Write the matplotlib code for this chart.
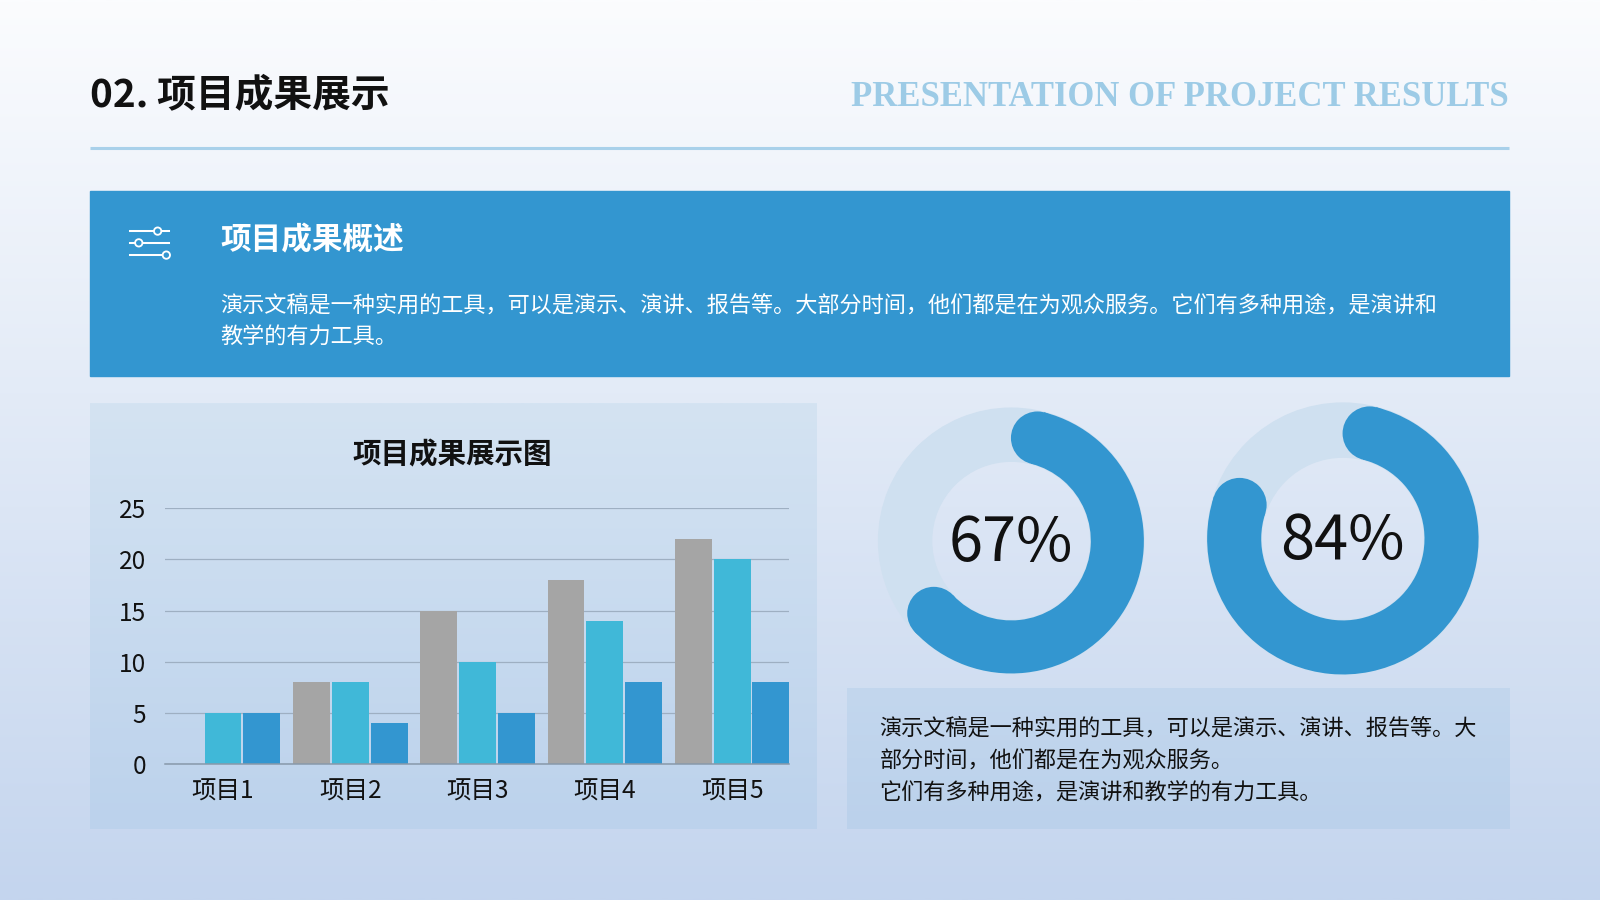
"""Slide: project results overview with grouped bars and two progress rings."""

import numpy as np
import matplotlib

matplotlib.use("Agg")
import matplotlib.pyplot as plt
from matplotlib.patches import Rectangle, Wedge, Circle

plt.rcParams["font.family"] = ["Noto Sans CJK SC", "DejaVu Sans"]

# data
categories = ["项目1", "项目2", "项目3", "项目4", "项目5"]
series_gray = [0, 8, 15, 18, 22]
series_cyan = [5, 8, 10, 14, 20]
series_blue = [5, 4, 5, 8, 8]
y_ticks = [0, 5, 10, 15, 20, 25]
ring_values = [67, 84]

page_title = "02. 项目成果展示"
page_subtitle = "PRESENTATION OF PROJECT RESULTS"
banner_title = "项目成果概述"
banner_lines = [
    "演示文稿是一种实用的工具，可以是演示、演讲、报告等。大部分时间，他们都是在为观众服务。它们有多种用途，是演讲和",
    "教学的有力工具。",
]
chart_title = "项目成果展示图"
note_lines = [
    "演示文稿是一种实用的工具，可以是演示、演讲、报告等。大",
    "部分时间，他们都是在为观众服务。",
    "它们有多种用途，是演讲和教学的有力工具。",
]

# colours
c_gray = "#a5a5a5"
c_cyan = "#40b8d8"
c_blue = "#3396d0"
c_ring_bg = "#cfe0f0"

W, H = 1568, 882  # layout units (reference pixels)
S = 1600 / W  # scale to output pixels
pt = 72 / 100 * S  # px -> pt
dy = 3  # CJK glyphs sit a little high with va="center"


def vgrad(ax, x0, x1, y0, y1, top, bottom, z=0):
    top = np.array(matplotlib.colors.to_rgb(top))
    bottom = np.array(matplotlib.colors.to_rgb(bottom))
    t = np.linspace(0, 1, 256)[:, None]
    img = (top * (1 - t) + bottom * t)[:, None, :]
    ax.imshow(img, extent=(x0, x1, y1, y0), aspect="auto", zorder=z,
              interpolation="bilinear")


fig = plt.figure(figsize=(16, 9), dpi=100)
bg = fig.add_axes([0, 0, 1, 1])
bg.set_xlim(0, W)
bg.set_ylim(H, 0)
bg.axis("off")

# page background
vgrad(bg, 0, W, 0, H, "#fbfcfe", "#c4d5ee", z=0)

# header
bg.text(88, 90 + dy, page_title, fontsize=38 * pt, fontweight="bold",
        color="#111111", va="center", ha="left", zorder=3)
bg.text(1479, 96, page_subtitle, fontsize=34 * pt, fontweight="bold",
        family="Liberation Serif", color="#9dcbe6", va="center", ha="right",
        zorder=3)
bg.plot([88, 1479], [145, 145], color="#a9d0ea", lw=3 * pt, zorder=3,
        solid_capstyle="butt")

# banner
bg.add_patch(Rectangle((88, 187), 1391, 181, color=c_blue, zorder=2))
for y, cx in [(226.5, 154.5), (238, 136), (250, 163)]:
    bg.plot([127, 166], [y, y], color="white", lw=2 * pt, zorder=3)
    bg.add_patch(Circle((cx, y), 3.6, facecolor=c_blue, edgecolor="white",
                        lw=1.8 * pt, zorder=4))
bg.text(216, 233 + dy, banner_title, fontsize=30 * pt, fontweight="bold",
        color="white", va="center", ha="left", zorder=3)
for i, line in enumerate(banner_lines):
    bg.text(216, 296 + dy + 32 * i, line, fontsize=21.7 * pt, color="white",
            va="center", ha="left", zorder=3)

# chart panel
vgrad(bg, 88, 800, 395, 812, "#d4e3f2", "#bcd2ec", z=1)
bg.text(443, 442 + dy, chart_title, fontsize=28 * pt, fontweight="bold",
        color="#111111", va="center", ha="center", zorder=3)

# note panel
vgrad(bg, 830, 1479, 674, 812, "#c3d7ee", "#bbd1eb", z=1)
for i, line in enumerate(note_lines):
    bg.text(862, 711 + dy + 32 * i, line, fontsize=21.7 * pt, color="#111111",
            va="center", ha="left", zorder=3)

# progress rings
rings = [((991, 530), 130, 78), ((1316, 528), 133, 80)]
for (center, r_out, r_in), pct in zip(rings, ring_values):
    thick = r_out - r_in
    r_mid = (r_out + r_in) / 2
    bg.add_patch(Wedge(center, r_out, 0, 360, width=thick, color=c_ring_bg,
                       zorder=2))
    cap = np.degrees((thick / 2) / r_mid)
    th1 = -90 + cap
    th2 = -90 + pct / 100 * 360 - cap
    bg.add_patch(Wedge(center, r_out, th1, th2, width=thick, color=c_blue,
                       zorder=3, lw=0))
    for th in (th1, th2):
        a = np.radians(th)
        bg.add_patch(Circle((center[0] + r_mid * np.cos(a),
                             center[1] + r_mid * np.sin(a)),
                            thick / 2, color=c_blue, zorder=3, lw=0))
    bg.text(center[0], center[1] + 3, f"{pct}%", fontsize=60 * pt,
            color="#111111", va="center", ha="center", zorder=4)

# bar chart
x0, x1, y_top, y_bot = 162, 773, 498, 749
ax = fig.add_axes([x0 / W, 1 - y_bot / H, (x1 - x0) / W, (y_bot - y_top) / H])
ax.patch.set_alpha(0)
xs = np.arange(len(categories))
bw = 0.29
off = 0.305
ax.bar(xs - off, series_gray, bw, color=c_gray, zorder=2)
ax.bar(xs, series_cyan, bw, color=c_cyan, zorder=2)
ax.bar(xs + off, series_blue, bw, color=c_blue, zorder=2)
ax.set_xlim(-0.453, 4.445)
ax.set_ylim(0, 25)
ax.set_yticks(y_ticks)
ax.set_xticks(xs)
ax.set_xticklabels(categories)
ax.yaxis.grid(True, color="#9eafc2", lw=1.2 * pt, zorder=0)
ax.set_axisbelow(True)
for side in ["top", "right", "left"]:
    ax.spines[side].set_visible(False)
ax.spines["bottom"].set_color("#8899aa")
ax.spines["bottom"].set_linewidth(1.5 * pt)
ax.tick_params(axis="both", length=0, labelsize=24 * pt, colors="#111111")
ax.tick_params(axis="y", pad=19 * pt)
ax.tick_params(axis="x", pad=14 * pt)

fig.savefig("out.png", dpi=100)
